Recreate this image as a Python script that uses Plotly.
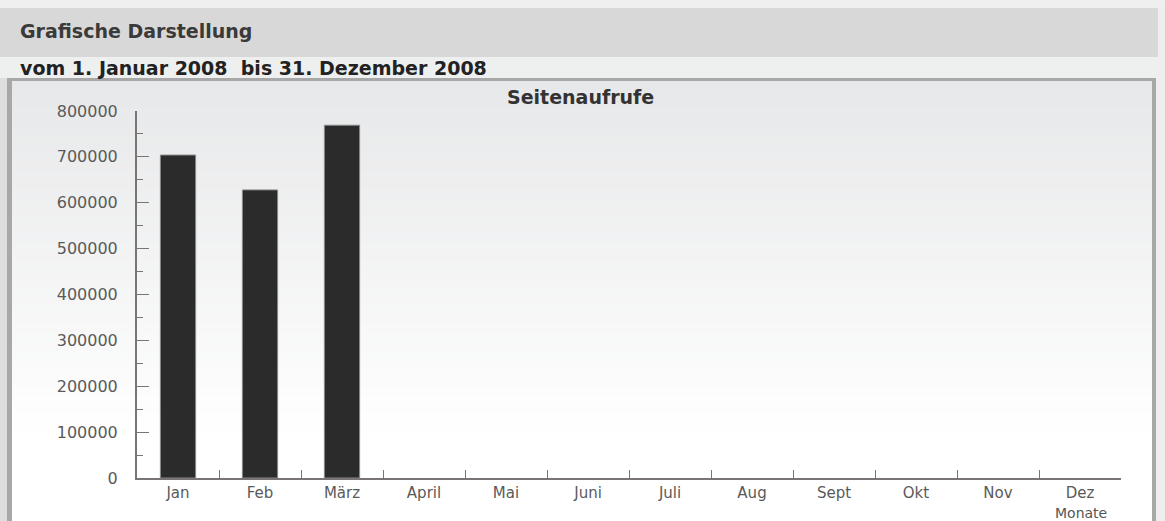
import plotly.graph_objects as go

months = ["Jan", "Feb", "März", "April", "Mai", "Juni", "Juli", "Aug", "Sept", "Okt", "Nov", "Dez"]
seitenaufrufe = [704000, 628000, 769000, None, None, None, None, None, None, None, None, None]
y_ticks = [0, 100000, 200000, 300000, 400000, 500000, 600000, 700000, 800000]

W, H = 1165, 521
L, R, T, B = 137, 1121, 111, 478


def px(p):
    return (p - L) / (R - L)


def py(p):
    return (B - p) / (B - T)


shapes = []


def rect(x0, y0, x1, y1, color):
    shapes.append(dict(type="rect", xref="paper", yref="paper", layer="below",
                       x0=px(x0), x1=px(x1), y0=py(y1), y1=py(y0),
                       fillcolor=color, line=dict(width=0)))


rect(0, 0, W, 8, "#efefef")
rect(0, 8, 1158, 57, "#d9d8d8")
rect(0, 57, 1158, 78, "#eef0f0")
rect(0, 78, 7, H, "#dedede")
rect(1156, 78, W, H, "#eeeeee")
# gradient interior
top_c = (231, 232, 233)
y0g, y1g = 81, 440
n = 40
for i in range(n):
    a = y0g + (y1g - y0g) * i / n
    b = y0g + (y1g - y0g) * (i + 1) / n + 0.5
    t = i / (n - 1)
    c = tuple(int(round(tc + (255 - tc) * t)) for tc in top_c)
    rect(12, a, 1152, b, "rgb(%d,%d,%d)" % c)
rect(12, y1g, 1152, H, "#ffffff")
# border
rect(7, 78, 1156, 81, "#a9a8a8")
rect(7, 78, 12, H, "#a9a8a8")
rect(1152, 78, 1156, H, "#a9a8a8")

fig = go.Figure(go.Bar(
    x=months, y=seitenaufrufe,
    marker=dict(color="#2b2b2b", line=dict(color="#8a8a8a", width=1)),
))

annotations = [
    dict(text="<b>Grafische Darstellung</b>", x=px(18), y=py(31), xanchor="left", yanchor="middle",
         font=dict(family="DejaVu Sans", size=19, color="#3a3a3a")),
    dict(text="<b>vom 1. Januar 2008&nbsp;&nbsp;bis 31. Dezember 2008</b>", x=px(18), y=py(68),
         xanchor="left", yanchor="middle", font=dict(family="DejaVu Sans", size=19, color="#222222")),
    dict(text="<b>Seitenaufrufe</b>", x=px(580), y=py(97), xanchor="center", yanchor="middle",
         font=dict(family="DejaVu Sans", size=19, color="#333333")),
    dict(text="Monate", x=px(1081), y=py(513), xanchor="center", yanchor="middle",
         font=dict(family="DejaVu Sans", size=14, color="#555555")),
]
for a in annotations:
    a.update(xref="paper", yref="paper", showarrow=False)

fig.update_layout(
    width=W, height=H,
    margin=dict(l=L, r=W - R, t=T, b=H - B),
    paper_bgcolor="#eeeeee", plot_bgcolor="rgba(0,0,0,0)",
    shapes=shapes, annotations=annotations,
    bargap=0.57, showlegend=False,
    xaxis=dict(range=[-0.5, 11.5], showgrid=False, showline=True, linecolor="#7a7575", linewidth=2,
               ticks="inside", tickson="boundaries", ticklen=8, tickcolor="#7a7575", tickwidth=1,
               tickfont=dict(family="DejaVu Sans", size=15, color="#5a5a5a"), ticklabelstandoff=0,
               fixedrange=True),
    yaxis=dict(range=[0, 800000], showgrid=False, zeroline=False, showline=True, linecolor="#7a7575",
               linewidth=2, tickvals=y_ticks, tickformat="d", ticks="inside", ticklen=12,
               tickcolor="#7a7575", tickwidth=1,
               minor=dict(dtick=50000, ticks="inside", ticklen=6, tickcolor="#7a7575", showgrid=False),
               tickfont=dict(family="DejaVu Sans", size=16, color="#5a5a5a"), ticklabelstandoff=14,
               fixedrange=True),
)

fig.write_html("out.html", config={"displayModeBar": False},
               post_script="document.body.style.margin='0';document.body.style.overflow='hidden';")
